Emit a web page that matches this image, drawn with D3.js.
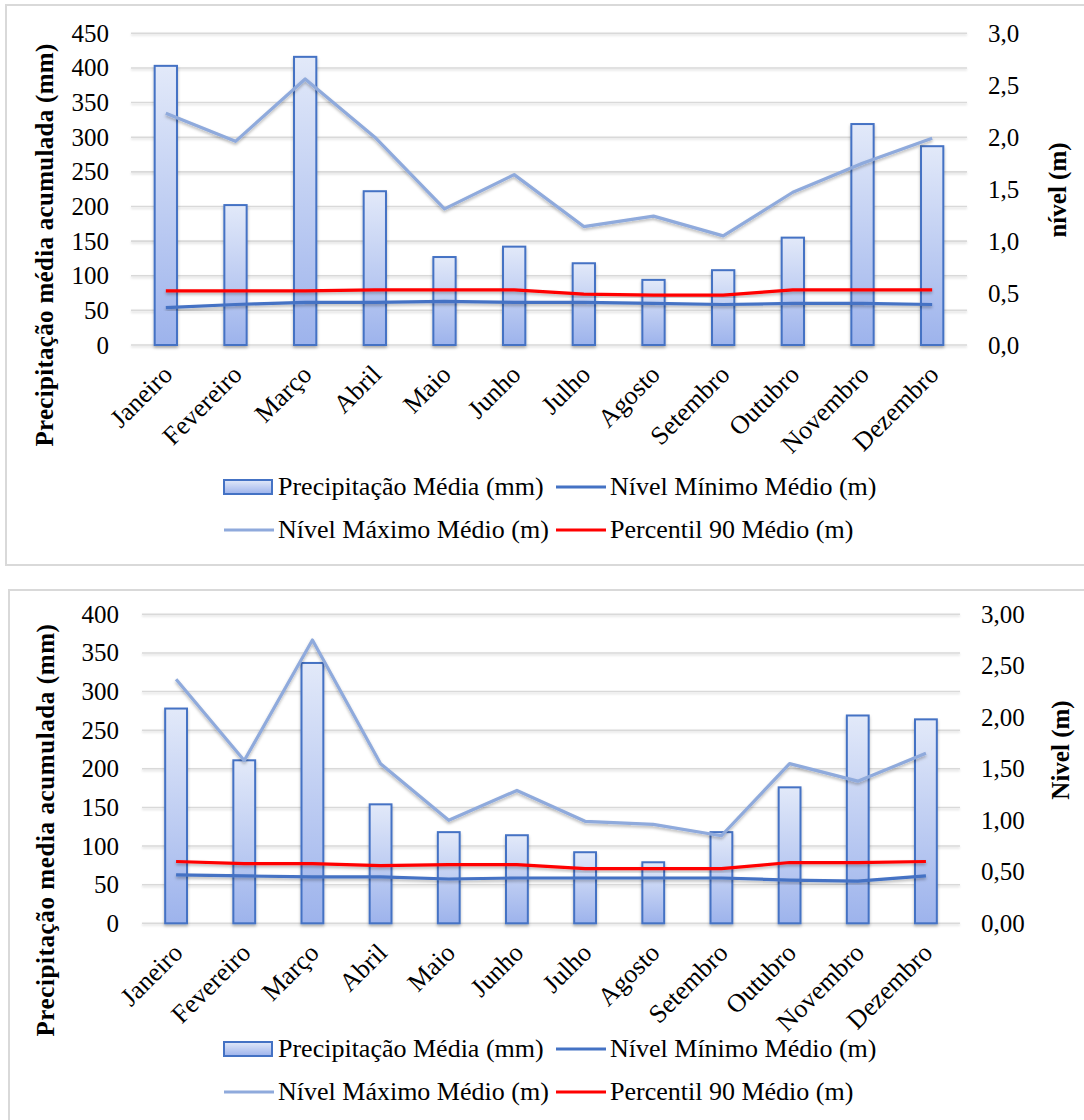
<!DOCTYPE html>
<html>
<head>
<meta charset="utf-8">
<script src="https://cdn.jsdelivr.net/npm/d3@7/dist/d3.min.js"></script>
<style>
  html, body { margin: 0; padding: 0; background: #ffffff; }
  svg { display: block; }
  text { font-family: "Liberation Serif", "Times New Roman", "DejaVu Serif", serif; fill: #000; }
</style>
</head>
<body>
<svg id="fig" width="1084" height="1120"></svg>
<script>
// Months shared by both panels
const months = ["Janeiro", "Fevereiro", "Março", "Abril", "Maio", "Junho",
                "Julho", "Agosto", "Setembro", "Outubro", "Novembro", "Dezembro"];

// Panel A (top)
const precipA = [403, 202, 416, 222, 127, 142, 118, 94, 108, 155, 319, 287];
const maxA    = [2.23, 1.96, 2.56, 2.00, 1.31, 1.64, 1.14, 1.24, 1.05, 1.47, 1.75, 1.99];
const p90A    = [0.52, 0.52, 0.52, 0.53, 0.53, 0.53, 0.49, 0.48, 0.48, 0.53, 0.53, 0.53];
const minA    = [0.36, 0.39, 0.41, 0.41, 0.42, 0.41, 0.41, 0.40, 0.39, 0.40, 0.40, 0.39];
const leftTicksA  = [0, 50, 100, 150, 200, 250, 300, 350, 400, 450];
const rightTicksA = [0, 0.5, 1.0, 1.5, 2.0, 2.5, 3.0];

// Panel B (bottom)
const precipB = [278, 211, 337, 154, 118, 114, 92, 79, 118, 176, 269, 264];
const maxB    = [2.37, 1.58, 2.75, 1.55, 1.00, 1.29, 0.99, 0.96, 0.85, 1.55, 1.38, 1.65];
const p90B    = [0.60, 0.58, 0.58, 0.56, 0.57, 0.57, 0.53, 0.53, 0.53, 0.59, 0.59, 0.60];
const minB    = [0.47, 0.46, 0.45, 0.45, 0.43, 0.44, 0.44, 0.44, 0.44, 0.42, 0.41, 0.46];
const leftTicksB  = [0, 50, 100, 150, 200, 250, 300, 350, 400];
const rightTicksB = [0, 0.5, 1.0, 1.5, 2.0, 2.5, 3.0];

const legendNames = ["Precipitação Média (mm)", "Nível Mínimo Médio (m)",
                     "Nível Máximo Médio (m)", "Percentil 90 Médio (m)"];

const COL_MIN = "#4472C4", COL_MAX = "#8FAADC", COL_P90 = "#FF0000";
const FONT = 25, FONT_LABEL = 26;
const SERIF = "Liberation Serif";

const svg = d3.select("#fig");
const defs = svg.append("defs");

const grad = defs.append("linearGradient").attr("id", "barFill")
  .attr("x1", 0).attr("y1", 0).attr("x2", 0).attr("y2", 1);
grad.append("stop").attr("offset", "0%").attr("stop-color", "#E2E9F9");
grad.append("stop").attr("offset", "100%").attr("stop-color", "#9DB3EC");

const shadow = defs.append("filter").attr("id", "shadow")
  .attr("x", "-5%").attr("y", "-50%").attr("width", "110%").attr("height", "200%");
shadow.append("feDropShadow").attr("dx", 0).attr("dy", 2).attr("stdDeviation", 1.4)
  .attr("flood-color", "#000").attr("flood-opacity", 0.28);

const gridShadow = defs.append("filter").attr("id", "gridShadow")
  .attr("x", "-5%").attr("y", "-200%").attr("width", "110%").attr("height", "500%");
gridShadow.append("feDropShadow").attr("dx", 0).attr("dy", 1.5).attr("stdDeviation", 0.8)
  .attr("flood-color", "#000").attr("flood-opacity", 0.15);

function drawPanel(p) {
  const g = svg.append("g");

  // frame
  g.append("rect")
    .attr("x", p.frame[0]).attr("y", p.frame[1])
    .attr("width", p.frame[2]).attr("height", p.frame[3])
    .attr("fill", "#fff").attr("stroke", "#D9D9D9").attr("stroke-width", 2);

  const x = d3.scaleBand().domain(months).range([p.x0, p.x1]);
  const yL = d3.scaleLinear().domain([0, p.leftMax]).range([p.yBottom, p.yTop]);
  const yR = d3.scaleLinear().domain([0, 3]).range([p.yBottom, p.yTop]);
  const cx = m => x(m) + x.bandwidth() / 2;

  // gridlines
  g.append("g").attr("filter", "url(#gridShadow)")
    .selectAll("line").data(p.leftTicks).join("line")
    .attr("x1", p.x0).attr("x2", p.x1)
    .attr("y1", d => yL(d)).attr("y2", d => yL(d))
    .attr("stroke", "#D9D9D9").attr("stroke-width", 1.6);

  // left axis
  const axL = g.append("g").attr("transform", `translate(${p.x0},0)`)
    .call(d3.axisLeft(yL).tickValues(p.leftTicks).tickSize(0).tickPadding(p.padL));
  axL.attr("font-family", SERIF);
  axL.select(".domain").remove();
  axL.selectAll("text").attr("font-size", FONT).attr("font-family", SERIF);

  // right axis
  const axR = g.append("g").attr("transform", `translate(${p.x1},0)`)
    .call(d3.axisRight(yR).tickValues(p.rightTicks).tickSize(0).tickPadding(p.padR)
      .tickFormat(d => d.toFixed(p.dec).replace(".", ",")));
  axR.attr("font-family", SERIF);
  axR.select(".domain").remove();
  axR.selectAll("text").attr("font-size", FONT).attr("font-family", SERIF);

  // bars
  const bw = x.bandwidth() * 0.32;
  g.append("g").attr("filter", "url(#shadow)")
    .selectAll("rect").data(months).join("rect")
    .attr("x", (m) => cx(m) - bw / 2)
    .attr("y", (m, i) => yL(p.precip[i]))
    .attr("width", bw)
    .attr("height", (m, i) => yL(0) - yL(p.precip[i]))
    .attr("fill", "url(#barFill)")
    .attr("stroke", COL_MIN).attr("stroke-width", 2);

  // lines
  const line = d3.line().x(d => cx(d.m)).y(d => yR(d.v));
  const series = [
    { vals: p.min, color: COL_MIN },
    { vals: p.max, color: COL_MAX },
    { vals: p.p90, color: COL_P90 }
  ];
  series.forEach(s => {
    g.append("path")
      .datum(months.map((m, i) => ({ m, v: s.vals[i] })))
      .attr("d", line)
      .attr("fill", "none")
      .attr("stroke", s.color).attr("stroke-width", 3.2)
      .attr("stroke-linejoin", "round")
      .attr("filter", "url(#shadow)");
  });

  // month labels, rotated
  g.append("g").selectAll("text").data(months).join("text")
    .attr("transform", m => `translate(${cx(m) + 8},${p.yBottom + 31}) rotate(-45)`)
    .attr("text-anchor", "end")
    .attr("font-family", SERIF)
    .attr("font-size", FONT_LABEL)
    .text(m => m);

  // axis titles
  g.append("text")
    .attr("transform", `translate(${p.titleL[0]},${p.titleL[1]}) rotate(-90)`)
    .attr("text-anchor", "middle").attr("dy", "0.35em")
    .attr("font-family", SERIF)
    .attr("font-size", FONT).attr("font-weight", "bold")
    .attr("letter-spacing", p.titleSpacing)
    .text(p.leftTitle);
  g.append("text")
    .attr("transform", `translate(${p.titleR[0]},${p.titleR[1]}) rotate(-90)`)
    .attr("text-anchor", "middle").attr("dy", "0.35em")
    .attr("font-family", SERIF)
    .attr("font-size", FONT).attr("font-weight", "bold")
    .text(p.rightTitle);

  // legend (two rows, two columns)
  const cols = [224, 556];
  const legendItems = [
    { name: legendNames[0], kind: "bar" },
    { name: legendNames[1], kind: "line", color: COL_MIN },
    { name: legendNames[2], kind: "line", color: COL_MAX },
    { name: legendNames[3], kind: "line", color: COL_P90 }
  ];
  legendItems.forEach((it, i) => {
    const lx = cols[i % 2];
    const ly = p.legendY[Math.floor(i / 2)];
    if (it.kind === "bar") {
      g.append("rect").attr("x", lx).attr("y", ly - 15).attr("width", 48).attr("height", 14)
        .attr("fill", "url(#barFill)").attr("stroke", COL_MIN).attr("stroke-width", 2);
    } else {
      g.append("line").attr("x1", lx).attr("x2", lx + 50)
        .attr("y1", ly - 8).attr("y2", ly - 8)
        .attr("stroke", it.color).attr("stroke-width", 3.2);
    }
    g.append("text").attr("x", lx + 54).attr("y", ly)
      .attr("font-family", SERIF)
      .attr("font-size", FONT_LABEL).text(it.name);
  });
}

drawPanel({
  frame: [6, 5, 1090, 560],
  x0: 131, x1: 967, yTop: 33.3, yBottom: 345,
  leftMax: 450, leftTicks: leftTicksA, rightTicks: rightTicksA, dec: 1,
  padL: 22, padR: 21,
  precip: precipA, max: maxA, p90: p90A, min: minA,
  leftTitle: "Precipitação média acumulada (mm)", titleL: [44, 245], titleSpacing: 0.3,
  rightTitle: "nível (m)", titleR: [1057, 190],
  legendY: [495, 538]
});

drawPanel({
  frame: [9, 590, 1090, 560],
  x0: 142, x1: 960, yTop: 614.3, yBottom: 923.3,
  leftMax: 400, leftTicks: leftTicksB, rightTicks: rightTicksB, dec: 2,
  padL: 23, padR: 21,
  precip: precipB, max: maxB, p90: p90B, min: minB,
  leftTitle: "Precipitação media acumulada (mm)", titleL: [45, 830], titleSpacing: 0.6,
  rightTitle: "Nivel (m)", titleR: [1060, 750],
  legendY: [1057, 1100]
});
</script>
</body>
</html>
